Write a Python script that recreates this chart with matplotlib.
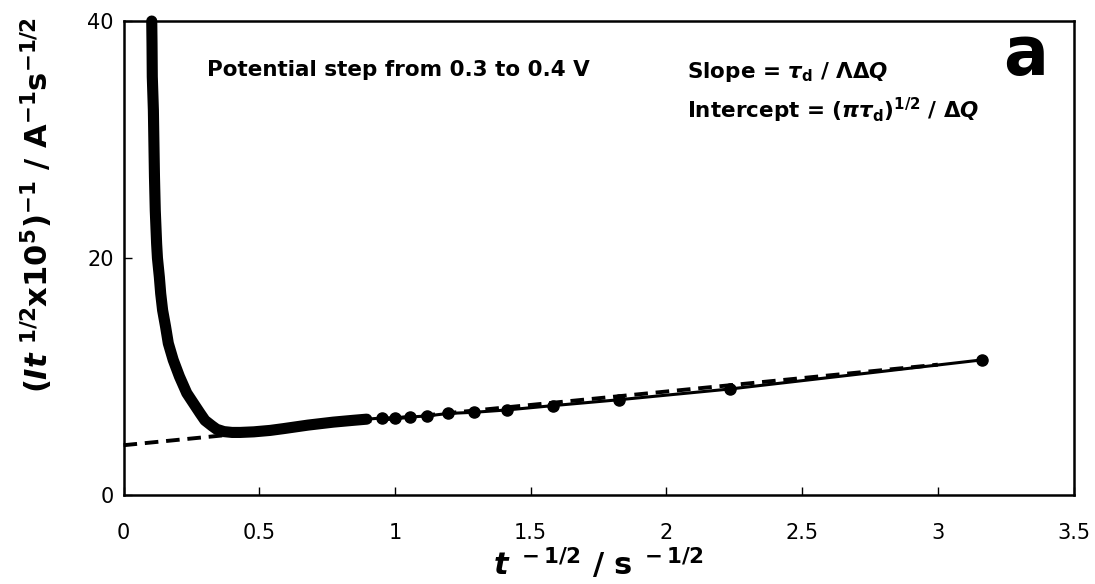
import matplotlib.pyplot as plt
import numpy as np

# datos leidos da figura (t^-1/2 em s^-1/2, (It^1/2 x10^5)^-1)
curva_x = [0.104, 0.105, 0.106, 0.110, 0.112, 0.114, 0.117, 0.122, 0.125, 0.132,
           0.137, 0.144, 0.155, 0.165, 0.183, 0.206, 0.233, 0.256, 0.282, 0.300,
           0.325, 0.343, 0.370, 0.400, 0.430, 0.480, 0.540, 0.589, 0.680, 0.773,
           0.845, 0.896]
curva_y = [40.0, 38.1, 35.3, 32.5, 29.7, 26.9, 24.0, 21.2, 20.0, 18.4,
           17.0, 15.6, 14.2, 12.8, 11.4, 10.0, 8.6, 7.8, 6.9, 6.3,
           5.85, 5.55, 5.35, 5.28, 5.28, 5.33, 5.45, 5.60, 5.90, 6.15,
           6.30, 6.40]

pontos_x = [0.953, 1.000, 1.054, 1.118, 1.195, 1.291, 1.414, 1.581, 1.826, 2.236, 3.162]
pontos_y = [6.50, 6.52, 6.58, 6.67, 6.88, 6.98, 7.18, 7.54, 8.04, 8.95, 11.40]

# reta ajustada (tracejada)
ajuste_x = [0.0, 3.0]
ajuste_y = [4.20, 11.0]

xticks = [0, 0.5, 1, 1.5, 2, 2.5, 3, 3.5]
xtick_labels = ['0', '0.5', '1', '1.5', '2', '2.5', '3', '3.5']
yticks = [0, 20, 40]

plt.rcParams['font.family'] = ['DejaVu Sans']
plt.rcParams['mathtext.fontset'] = 'custom'
plt.rcParams['mathtext.rm'] = 'DejaVu Sans:bold'
plt.rcParams['mathtext.bf'] = 'DejaVu Sans:bold'
plt.rcParams['mathtext.it'] = 'DejaVu Sans:italic:bold'

fig = plt.figure(figsize=(10.95, 5.84), dpi=100)
ax = fig.add_axes([0.1128, 0.1524, 0.8676, 0.8116])

# reta tracejada
ax.plot(ajuste_x, ajuste_y, color='black', linewidth=2.8, linestyle=(0, (3.5, 2)),
        zorder=2, clip_on=False)

# parte densa (pontos sobrepostos)
ax.plot(curva_x, curva_y, color='black', linewidth=8, solid_capstyle='round',
        solid_joinstyle='round', zorder=3, clip_on=False)

# pontos separados
ax.plot([curva_x[-1]] + pontos_x, [curva_y[-1]] + pontos_y, color='black',
        linewidth=2.2, zorder=3)
ax.plot(pontos_x, pontos_y, 'o', color='black', markersize=8, zorder=4)

ax.set_xlim(0, 3.5)
ax.set_ylim(0, 40)
ax.set_xticks(xticks)
ax.set_xticklabels(xtick_labels)
ax.set_yticks(yticks)
ax.tick_params(direction='in', length=6, width=1, labelsize=15)
ax.tick_params(axis='x', pad=20)
ax.tick_params(axis='y', pad=7)
for s in ax.spines.values():
    s.set_linewidth(1.8)

ax.set_xlabel(r'$t^{\ -1/2}$ / s$^{\ -1/2}$', fontsize=22, fontweight='bold', labelpad=2)
ax.set_ylabel(r'$(It^{\ 1/2}$x10$^5)^{-1}$ / A$^{-1}$s$^{-1/2}$', fontsize=22,
              fontweight='bold')
ax.yaxis.set_label_coords(-0.072, 0.612)

ax.text(0.088, 0.897, 'Potential step from 0.3 to 0.4 V', transform=ax.transAxes,
        fontsize=15.5, fontweight='bold', va='center', ha='left')
ax.text(0.593, 0.892, r'Slope = $\tau_{\rm d}$ / $\Lambda\Delta Q$', transform=ax.transAxes,
        fontsize=15.5, fontweight='bold', va='center', ha='left')
ax.text(0.593, 0.812, r'Intercept = $(\pi\tau_{\rm d})^{1/2}$ / $\Delta Q$',
        transform=ax.transAxes, fontsize=15.5, fontweight='bold', va='center', ha='left')
ax.text(0.926, 0.886, 'a', transform=ax.transAxes, fontsize=48, fontweight='bold',
        va='baseline', ha='left')

plt.savefig('out.png', dpi=100)
